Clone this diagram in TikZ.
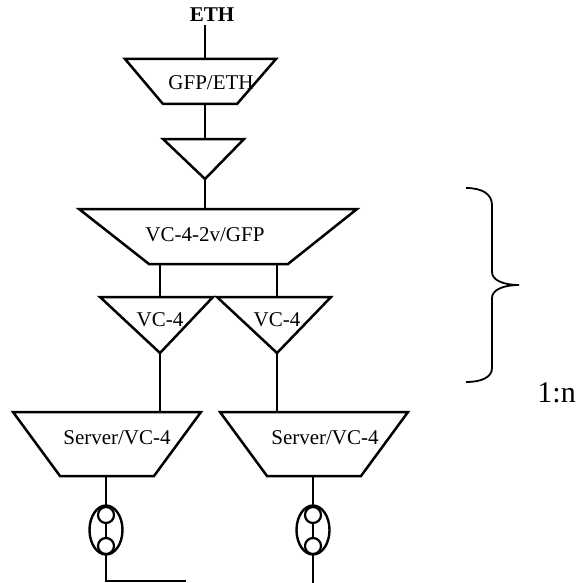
\documentclass[tikz,border=0pt]{standalone}
\usepackage{fontspec}
\usetikzlibrary{shapes.geometric}
\setmainfont{Liberation Serif}
\tikzset{
  ln/.style={line width=2.5pt,line join=miter,black},
  thinln/.style={line width=2pt,black},
  lbl/.style={inner sep=0pt,font=\fontsize{21}{24}\selectfont,text=black},
  oval/.style={draw,ellipse,line width=2.4pt,minimum width=33pt,minimum height=49pt,inner sep=0pt},
  ring/.style={draw,circle,line width=2.2pt,minimum size=16pt,inner sep=0pt},
}
\begin{document}
\begin{tikzpicture}[x=1pt,y=-1pt]
\useasboundingbox (0,0) rectangle (576,583);
% anchor points
\coordinate (ethend) at (205,25);
\coordinate (gfpT) at (205,59);
\coordinate (gfpB) at (205,104);
\coordinate (t0T) at (205,139);
\coordinate (t0B) at (205,179);
\coordinate (vcT) at (205,209);
\coordinate (vcBL) at (160,264);
\coordinate (vcBR) at (277,264);
\coordinate (t1T) at (160,297);
\coordinate (t2T) at (277,297);
\coordinate (t1B) at (160,353);
\coordinate (t2B) at (277,353);
\coordinate (s1T) at (160,412);
\coordinate (s2T) at (277,412);
\coordinate (s1B) at (106,476);
\coordinate (s2B) at (313,476);
% shapes
\draw[ln] (125,59) -- (276,59) -- (237,104) -- (163,104) -- cycle;
\draw[ln] (163,139) -- (244,139) -- (205,179) -- cycle;
\draw[ln] (79,209) -- (357,209) -- (288,264) -- (149,264) -- cycle;
\draw[ln] (100,297) -- (213,297) -- (160,353) -- cycle;
\draw[ln] (217,297) -- (331,297) -- (277,353) -- cycle;
\draw[ln] (13,412) -- (201,412) -- (154,476) -- (60,476) -- cycle;
\draw[ln] (220,412) -- (408,412) -- (361,476) -- (267,476) -- cycle;
% labels
\node[lbl,font=\fontsize{21}{24}\selectfont\bfseries] (eth) at (212,15) {ETH};
\node[lbl] (gfp) at (211,83) {GFP/ETH};
\node[lbl] (vc) at (205,235) {VC-4-2v/GFP};
\node[lbl] (v1) at (160,320) {VC-4};
\node[lbl] (v2) at (277,320) {VC-4};
\node[lbl] (s1) at (117,438) {Server/VC-4};
\node[lbl] (s2) at (325,438) {Server/VC-4};
\node[lbl,font=\fontsize{30}{32}\selectfont,anchor=east] (ratio) at (576,393) {1:n};
% connectors
\draw[ln] (ethend) -- (gfpT);
\draw[ln] (gfpB) -- (t0T);
\draw[ln] (t0B) -- (vcT);
\draw[thinln] (vcBL) -- (t1T);
\draw[thinln] (vcBR) -- (t2T);
\draw[thinln] (t1B) -- (s1T);
\draw[thinln] (t2B) -- (s2T);
% left protection symbol
\node[oval] (e1) at (106,530) {};
\node[ring] (c1a) at (106,515) {};
\node[ring] (c1b) at (106,546) {};
\coordinate (end1) at (186,581);
\draw[thinln] (s1B) -- (c1a.north);
\draw[thinln] (c1a.south) -- (c1b.north);
\draw[thinln] (c1b.south) |- (end1);
% right protection symbol
\node[oval] (e2) at (313,530) {};
\node[ring] (c2a) at (313,515) {};
\node[ring] (c2b) at (313,546) {};
\coordinate (end2) at (313,583);
\draw[thinln] (s2B) -- (c2a.north);
\draw[thinln] (c2a.south) -- (c2b.north);
\draw[thinln] (c2b.south) -- (end2);
% brace
\draw[line width=1.8pt] (466,188) .. controls (482,188) and (492,194) .. (492,205)
  -- (492,272) .. controls (492,280) and (503,285) .. (519,285)
  .. controls (503,285) and (492,290) .. (492,298)
  -- (492,368) .. controls (492,377) and (482,382) .. (466,382);
\end{tikzpicture}
\end{document}
